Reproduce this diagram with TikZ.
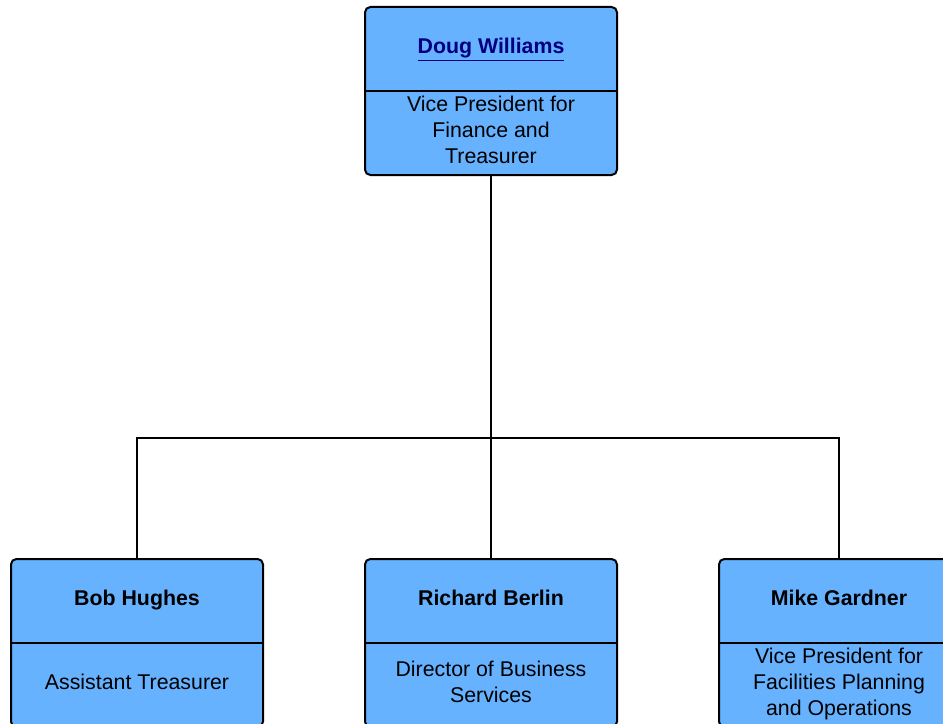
\documentclass[tikz,border=0pt]{standalone}
\usepackage{fontspec}
\setmainfont{Liberation Sans}
\usetikzlibrary{positioning}
\definecolor{boxblue}{RGB}{102,178,255}
\definecolor{linkblue}{RGB}{0,0,128}

\begin{document}
\begin{tikzpicture}[x=0.75pt, y=-0.75pt, line width=1.5pt,
  person/.style={draw, fill=boxblue, rounded corners=4pt, minimum width=189pt, minimum height=126pt, inner sep=0pt},
  personname/.style={font=\fontsize{16}{19.5}\selectfont\bfseries, align=center, text depth=0pt},
  personrole/.style={font=\fontsize{16}{19.5}\selectfont, align=center, text depth=0pt}]
  \useasboundingbox (0,0) rectangle (943,724);
  \clip (0,0) rectangle (943,724);

  % boxes
  \node[person] (doug) at (491,91) {};
  \node[person] (bob) at (137,643) {};
  \node[person] (richard) at (491,643) {};
  \node[person, minimum width=180pt] (mike) at (839,643) {};
  \draw (doug.west) -- (doug.east);
  \draw (bob.west) -- (bob.east);
  \draw (richard.west) -- (richard.east);
  \draw (mike.west) -- (mike.east);

  % texts
  \node[personname, text=linkblue] (dougname) at ([yshift=33.75pt]doug.center) {\underline{Doug Williams}};
  \node[personrole] (dougrole) at ([yshift=-29.25pt]doug.center) {Vice President for\\Finance and\\Treasurer};
  \node[personname] (bobname) at ([yshift=33.75pt]bob.center) {Bob Hughes};
  \node[personrole] (bobrole) at ([yshift=-29.25pt]bob.center) {Assistant Treasurer};
  \node[personname] (richardname) at ([yshift=33.75pt]richard.center) {Richard Berlin};
  \node[personrole] (richardrole) at ([yshift=-29.25pt]richard.center) {Director of Business\\Services};
  \node[personname] (mikename) at ([yshift=33.75pt]mike.center) {Mike Gardner};
  \node[personrole] (mikerole) at ([yshift=-29.25pt]mike.center) {Vice President for\\Facilities Planning\\and Operations};

  % connectors
  \coordinate (split) at (491,438);
  \draw (doug.south) -- (split);
  \draw (bob.north) |- (split) -| (mike.north);
  \draw (split) -- (richard.north);
\end{tikzpicture}
\end{document}
